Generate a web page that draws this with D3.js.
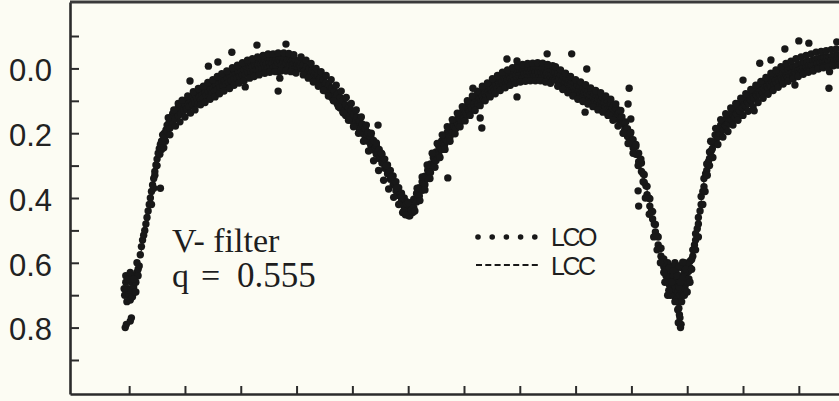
<!DOCTYPE html>
<html>
<head>
<meta charset="utf-8">
<script src="https://cdn.jsdelivr.net/npm/d3@7"></script>
<style>
  html, body { margin: 0; padding: 0; background: #fcfcf3; }
  svg { display: block; }
</style>
</head>
<body>
<div id="light-curve"></div>
<script>
// V-band light curve, phase vs. delta magnitude

// LCO: observed points [phase, dmag]
// primary eclipse at phase 0 and the rise out of it
const lcoEclipseA = [
  [-0.007,0.800],[0.004,0.770],[-0.005,0.790],[0.002,0.780],
  [-0.008,0.700],[-0.006,0.660],[-0.004,0.720],[-0.002,0.680],[0.000,0.700],[0.000,0.640],
  [0.002,0.715],[0.004,0.660],[0.004,0.690],[0.006,0.705],[0.006,0.640],[0.008,0.675],
  [0.010,0.690],[0.010,0.650],[0.012,0.660],[0.014,0.630],[0.016,0.640],[0.018,0.610],
  [0.020,0.575],[0.022,0.550],[0.024,0.530],[0.026,0.515],[0.028,0.500],[0.030,0.480],
  [0.032,0.460],[0.034,0.440],[0.036,0.420],[0.038,0.400],[0.040,0.380],[0.042,0.360],
  [0.044,0.340],[0.046,0.318],[0.048,0.298],[0.050,0.280],[0.052,0.262],[0.054,0.248],
  [0.056,0.235],[0.058,0.225],
  [-0.006,0.640],[-0.002,0.650],[0.002,0.630],[0.008,0.650],[0.012,0.690],[-0.009,0.680],
  [0.014,0.600],[0.016,0.620],[0.046,0.330],[0.050,0.300],[0.055,0.265],[0.058,0.250],
  [0.062,0.245],[0.065,0.225],[0.044,0.370],[0.040,0.420]
];

// first maximum
const lcoMaxI = [
  [0.060,0.225],[0.060,0.205],[0.063,0.200],[0.063,0.215],[0.066,0.190],[0.068,0.175],[0.068,0.195],
  [0.071,0.170],[0.073,0.160],[0.073,0.185],[0.076,0.150],[0.078,0.165],[0.078,0.140],[0.081,0.145],
  [0.083,0.130],[0.083,0.155],[0.086,0.135],[0.088,0.120],[0.088,0.145],[0.091,0.128],[0.093,0.140],
  [0.093,0.110],[0.096,0.118],[0.098,0.130],[0.098,0.105],[0.101,0.112],[0.103,0.125],[0.103,0.098],
  [0.106,0.108],[0.108,0.090],[0.108,0.118],[0.111,0.100],[0.113,0.112],[0.113,0.085],[0.116,0.095],
  [0.118,0.105],[0.118,0.080],[0.121,0.090],[0.123,0.075],[0.123,0.110],[0.126,0.088],[0.128,0.070],
  [0.128,0.098],[0.131,0.080],[0.133,0.092],[0.133,0.062],[0.136,0.075],[0.138,0.085],[0.138,0.060],
  [0.141,0.070],[0.143,0.090],[0.143,0.055],[0.146,0.065],[0.148,0.078],[0.148,0.048],[0.151,0.060],
  [0.153,0.070],[0.153,0.040],[0.156,0.052],[0.158,0.065],[0.158,0.035],[0.161,0.048],[0.163,0.058],
  [0.163,0.030],[0.166,0.042],[0.168,0.055],[0.168,0.025],[0.171,0.038],[0.173,0.050],[0.173,0.020],
  [0.176,0.030],[0.178,0.042],[0.178,0.015],[0.181,0.028],[0.183,0.038],[0.183,0.008],[0.186,0.022],
  [0.188,0.032],[0.188,0.005],[0.191,0.018],[0.193,0.030],[0.193,0.000],[0.196,0.012],[0.198,0.025],
  [0.198,-0.005],[0.201,0.010],[0.203,0.020],[0.203,-0.008],[0.206,0.005],[0.208,0.018],[0.208,-0.010],
  [0.211,0.002],[0.213,0.012],[0.213,-0.015],[0.216,-0.002],[0.218,0.010],[0.218,-0.018],[0.221,-0.005],
  [0.223,0.008],[0.223,-0.020],[0.226,-0.008],[0.228,0.005],[0.228,-0.022],[0.231,-0.010],[0.233,0.002],
  [0.233,-0.025],[0.236,-0.012],[0.238,0.000],[0.238,-0.025],[0.241,-0.015],[0.243,-0.002],[0.243,-0.028],
  [0.246,-0.014],[0.248,-0.030],[0.248,0.000],[0.251,-0.018],[0.253,-0.005],[0.253,-0.030],[0.256,-0.016],
  [0.258,-0.028],[0.258,-0.002],[0.261,-0.020],[0.263,-0.008],[0.263,-0.032],[0.266,-0.018],[0.268,-0.030],
  [0.268,0.010],[0.270,0.030],[0.271,-0.022],[0.273,-0.010],[0.273,-0.032],[0.276,-0.020],[0.278,-0.030],
  [0.278,-0.005],[0.281,-0.018],[0.283,-0.028],[0.283,0.005],[0.286,-0.020],[0.288,-0.012],[0.288,-0.030],
  [0.291,-0.022],[0.293,-0.008],[0.293,-0.028],[0.296,-0.016],[0.298,-0.025],[0.298,0.000],[0.301,-0.012],
  [0.303,-0.022],[0.303,0.002],[0.306,-0.010],
  // outer edges of the band
  [0.070,0.152],[0.073,0.205],[0.080,0.128],[0.083,0.178],[0.088,0.108],[0.091,0.165],[0.095,0.098],
  [0.100,0.150],[0.105,0.085],[0.110,0.138],[0.115,0.072],[0.118,0.128],[0.124,0.062],[0.128,0.112],
  [0.133,0.055],[0.136,0.105],[0.141,0.043],[0.145,0.095],[0.150,0.035],[0.154,0.088],[0.158,0.025],
  [0.162,0.078],[0.166,0.016],[0.170,0.070],[0.175,0.008],[0.180,0.062],[0.185,-0.002],[0.188,0.052],
  [0.194,-0.010],[0.197,0.045],[0.203,-0.018],[0.206,0.038],[0.212,-0.025],[0.216,0.030],[0.221,-0.030],
  [0.224,0.025],[0.230,-0.035],[0.233,0.020],[0.240,-0.040],[0.243,0.015],[0.249,-0.045],[0.252,0.012],
  [0.258,-0.045],[0.262,0.010],[0.267,-0.048],[0.272,0.008],[0.277,-0.048],[0.281,0.008],[0.286,-0.046],
  [0.290,0.010],[0.295,-0.042],[0.299,0.014]
];

// secondary eclipse
const lcoEclipseII = [
  [0.308,0.000],[0.308,-0.020],[0.311,-0.008],[0.313,0.010],[0.313,-0.012],[0.316,0.005],[0.318,0.018],
  [0.318,-0.005],[0.321,0.010],[0.323,0.025],[0.323,0.000],[0.326,0.015],[0.328,0.030],[0.328,0.005],
  [0.331,0.022],[0.333,0.038],[0.333,0.012],[0.336,0.028],[0.338,0.045],[0.338,0.020],[0.341,0.035],
  [0.343,0.052],[0.343,0.028],[0.346,0.045],[0.348,0.062],[0.348,0.035],[0.351,0.052],[0.353,0.070],
  [0.353,0.045],[0.356,0.062],[0.358,0.080],[0.358,0.052],[0.361,0.072],[0.363,0.090],[0.363,0.060],
  [0.366,0.082],[0.368,0.100],[0.368,0.070],[0.371,0.092],[0.373,0.110],[0.373,0.080],[0.376,0.102],
  [0.378,0.122],[0.378,0.090],[0.381,0.112],[0.383,0.135],[0.383,0.100],[0.386,0.125],[0.388,0.145],
  [0.388,0.112],[0.391,0.135],[0.393,0.152],[0.393,0.122],[0.396,0.142],[0.398,0.160],[0.398,0.130],
  [0.401,0.150],[0.403,0.170],[0.403,0.140],[0.406,0.160],[0.408,0.178],[0.408,0.150],[0.411,0.172],
  [0.413,0.190],[0.413,0.160],[0.416,0.182],[0.418,0.200],[0.418,0.172],[0.421,0.195],[0.423,0.212],
  [0.423,0.185],[0.426,0.205],[0.428,0.225],[0.428,0.198],[0.431,0.218],[0.433,0.238],[0.433,0.210],
  [0.436,0.230],[0.438,0.252],[0.438,0.222],[0.441,0.245],[0.443,0.265],[0.443,0.238],[0.446,0.258],
  [0.448,0.278],[0.448,0.250],[0.451,0.272],[0.453,0.292],[0.453,0.265],[0.456,0.288],[0.458,0.308],
  [0.458,0.280],[0.461,0.302],[0.463,0.325],[0.463,0.298],[0.466,0.320],[0.468,0.342],[0.468,0.315],
  [0.471,0.338],[0.473,0.360],[0.473,0.332],[0.476,0.355],[0.478,0.378],[0.478,0.350],[0.481,0.372],
  [0.483,0.392],[0.483,0.368],[0.486,0.390],[0.488,0.408],[0.488,0.385],[0.491,0.405],[0.493,0.425],
  [0.493,0.400],[0.496,0.420],[0.498,0.440],[0.498,0.412],[0.501,0.432],[0.503,0.455],[0.503,0.420],
  [0.506,0.430],[0.508,0.445],[0.508,0.412],
  // outer edges of the band
  [0.308,-0.035],[0.312,0.020],[0.317,-0.025],[0.321,0.030],[0.326,-0.015],[0.330,0.042],[0.335,0.000],
  [0.339,0.055],[0.344,0.010],[0.348,0.068],[0.353,0.022],[0.357,0.085],[0.362,0.035],[0.366,0.100],
  [0.371,0.052],[0.375,0.118],[0.380,0.070],[0.384,0.138],[0.389,0.090],[0.393,0.160],[0.398,0.108],
  [0.402,0.180],[0.407,0.128],[0.411,0.200],[0.416,0.150],[0.420,0.225],[0.425,0.175],[0.429,0.255],
  [0.434,0.200],[0.438,0.285],[0.443,0.230],[0.447,0.315],[0.452,0.262],[0.456,0.345],[0.461,0.300],
  [0.465,0.372],[0.470,0.335],[0.474,0.398],[0.479,0.368],[0.483,0.420],[0.488,0.395],[0.492,0.440],
  [0.497,0.418],[0.501,0.455],[0.505,0.440],[0.500,0.415],[0.490,0.445],[0.495,0.452]
];

// second maximum
const lcoMaxII = [
  [0.510,0.430],[0.510,0.404],[0.513,0.410],[0.515,0.412],[0.515,0.386],[0.518,0.392],[0.520,0.394],
  [0.520,0.368],[0.523,0.372],[0.525,0.376],[0.525,0.350],[0.528,0.354],[0.530,0.359],[0.530,0.333],
  [0.533,0.336],[0.535,0.340],[0.535,0.314],[0.538,0.318],[0.540,0.321],[0.540,0.295],[0.543,0.298],
  [0.545,0.302],[0.545,0.276],[0.548,0.280],[0.550,0.284],[0.550,0.258],[0.553,0.262],[0.555,0.267],
  [0.555,0.241],[0.558,0.246],[0.560,0.250],[0.560,0.224],[0.563,0.232],[0.565,0.237],[0.565,0.211],
  [0.568,0.218],[0.570,0.224],[0.570,0.198],[0.573,0.206],[0.575,0.211],[0.575,0.185],[0.578,0.192],
  [0.580,0.198],[0.580,0.172],[0.583,0.180],[0.585,0.186],[0.585,0.160],[0.588,0.168],[0.590,0.174],
  [0.590,0.148],[0.593,0.156],[0.595,0.163],[0.595,0.137],[0.598,0.145],[0.600,0.152],[0.600,0.126],
  [0.603,0.135],[0.605,0.143],[0.605,0.117],[0.608,0.126],[0.610,0.134],[0.610,0.108],[0.613,0.118],
  [0.615,0.126],[0.615,0.100],[0.618,0.110],[0.620,0.118],[0.620,0.092],[0.623,0.102],[0.625,0.110],
  [0.625,0.084],[0.628,0.094],[0.630,0.102],[0.630,0.076],[0.633,0.086],[0.635,0.094],[0.635,0.068],
  [0.638,0.079],[0.640,0.087],[0.640,0.061],[0.643,0.072],[0.645,0.080],[0.645,0.054],[0.648,0.065],
  [0.650,0.074],[0.650,0.048],[0.653,0.058],[0.655,0.068],[0.655,0.042],[0.658,0.052],[0.660,0.062],
  [0.660,0.036],[0.663,0.047],[0.665,0.057],[0.665,0.031],[0.668,0.042],[0.670,0.052],[0.670,0.026],
  [0.673,0.038],[0.675,0.048],[0.675,0.022],[0.678,0.034],[0.680,0.044],[0.680,0.018],[0.683,0.030],
  [0.685,0.040],[0.685,0.014],[0.688,0.026],[0.690,0.036],[0.690,0.010],[0.693,0.022],[0.695,0.033],
  [0.695,0.007],[0.698,0.020],[0.700,0.031],[0.700,0.005],[0.703,0.018],[0.705,0.029],[0.705,0.003],
  [0.708,0.016],[0.710,0.027],[0.710,0.001],[0.713,0.014],[0.715,0.026],[0.715,0.000],[0.718,0.013],
  [0.720,0.025],[0.720,-0.001],[0.723,0.012],[0.725,0.024],[0.725,-0.002],[0.728,0.011],[0.730,0.024],
  [0.730,-0.002],[0.733,0.011],[0.735,0.024],[0.735,-0.002],[0.738,0.012],[0.740,0.025],[0.740,-0.001],
  [0.743,0.013],[0.745,0.027],[0.745,0.001],[0.748,0.015],[0.750,0.029],[0.750,0.003],[0.753,0.018],
  [0.755,0.032],[0.755,0.006],[0.758,0.020],[0.760,0.034],[0.760,0.008],
  // outer edges of the band
  [0.512,0.440],[0.516,0.370],[0.521,0.408],[0.525,0.335],[0.530,0.375],[0.534,0.298],[0.539,0.340],
  [0.543,0.262],[0.548,0.305],[0.552,0.232],[0.557,0.275],[0.561,0.205],[0.566,0.250],[0.570,0.180],
  [0.575,0.225],[0.579,0.158],[0.584,0.202],[0.588,0.138],[0.593,0.180],[0.597,0.118],[0.602,0.162],
  [0.606,0.100],[0.611,0.145],[0.615,0.085],[0.620,0.130],[0.624,0.070],[0.629,0.115],[0.633,0.055],
  [0.638,0.100],[0.642,0.045],[0.647,0.088],[0.651,0.032],[0.656,0.078],[0.660,0.022],[0.665,0.068],
  [0.669,0.012],[0.674,0.060],[0.678,0.005],[0.683,0.052],[0.687,-0.002],[0.692,0.046],[0.696,-0.008],
  [0.701,0.042],[0.705,-0.012],[0.710,0.040],[0.714,-0.015],[0.719,0.038],[0.723,-0.016],[0.728,0.038],
  [0.732,-0.018],[0.737,0.038],[0.741,-0.016],[0.746,0.042],[0.750,-0.012],[0.755,0.046],[0.759,-0.008]
];

// descent into the next primary eclipse
const lcoEclipseB = [
  [0.763,0.036],[0.763,0.012],[0.766,0.026],[0.768,0.040],[0.768,0.016],[0.771,0.030],[0.773,0.045],
  [0.773,0.020],[0.776,0.035],[0.778,0.052],[0.778,0.026],[0.781,0.040],[0.783,0.058],[0.783,0.030],
  [0.786,0.046],[0.788,0.062],[0.788,0.036],[0.791,0.050],[0.793,0.068],[0.793,0.040],[0.796,0.055],
  [0.798,0.074],[0.798,0.046],[0.801,0.060],[0.803,0.078],[0.803,0.050],[0.806,0.064],[0.808,0.082],
  [0.808,0.055],[0.811,0.070],[0.813,0.088],[0.813,0.060],[0.816,0.074],[0.818,0.092],[0.818,0.064],
  [0.821,0.078],[0.823,0.098],[0.823,0.068],[0.826,0.082],[0.828,0.102],[0.828,0.072],[0.831,0.088],
  [0.833,0.106],[0.833,0.078],[0.836,0.092],[0.838,0.110],[0.838,0.082],[0.841,0.096],[0.843,0.114],
  [0.843,0.086],[0.846,0.100],[0.848,0.118],[0.848,0.090],[0.851,0.104],[0.853,0.122],[0.853,0.095],
  [0.856,0.108],[0.858,0.126],[0.858,0.100],[0.861,0.115],[0.863,0.135],[0.863,0.108],[0.866,0.122],
  [0.868,0.142],[0.868,0.115],[0.871,0.130],[0.873,0.150],[0.873,0.124],[0.876,0.140],[0.878,0.160],
  [0.878,0.136],[0.881,0.152],[0.883,0.172],[0.883,0.150],[0.886,0.168],[0.888,0.190],[0.888,0.168],
  [0.891,0.188],[0.893,0.210],[0.893,0.186],[0.896,0.205],[0.898,0.226],[0.898,0.202],[0.901,0.224],
  [0.903,0.245],[0.903,0.220],[0.906,0.242],[0.908,0.265],[0.908,0.240],[0.911,0.265],[0.913,0.288],
  [0.913,0.262],[0.916,0.292],[0.918,0.318],[0.918,0.292],[0.921,0.325],[0.923,0.352],[0.923,0.328],
  [0.926,0.362],[0.928,0.390],[0.928,0.364],[0.931,0.400],[0.933,0.425],[0.933,0.402],[0.936,0.440],
  [0.938,0.465],[0.938,0.442],[0.941,0.480],[0.943,0.505],[0.943,0.482],[0.946,0.518],[0.948,0.545],
  [0.948,0.520],[0.951,0.556],[0.953,0.580],[0.953,0.555],[0.956,0.590],[0.958,0.612],[0.958,0.588],
  [0.961,0.622],[0.963,0.640],[0.963,0.612],[0.966,0.648],[0.968,0.668],[0.968,0.640],[0.971,0.672],
  [0.973,0.690],[0.973,0.660],[0.976,0.688],[0.978,0.705],[0.978,0.675],[0.981,0.700],[0.983,0.720],
  [0.983,0.690],[0.985,0.740],[0.985,0.705],[0.987,0.770],[0.987,0.700],[0.989,0.790],[0.990,0.720],
  [0.990,0.690],[0.992,0.700],[0.992,0.670],[0.994,0.690],[0.996,0.680],[0.996,0.655],[0.998,0.665],
  [1.000,0.660],[1.000,0.630],[1.003,0.625],[1.005,0.615],[1.005,0.595],[1.008,0.590],[1.010,0.580],
  [1.010,0.560],[1.013,0.545],[1.015,0.530],[1.015,0.510],[1.018,0.495],[1.020,0.480],[1.020,0.460],
  [1.023,0.440],[1.025,0.420],[1.025,0.395],[1.028,0.380],[1.030,0.365],[1.030,0.340],[1.033,0.325],
  [1.035,0.315],[1.035,0.295],[1.038,0.288],[1.040,0.278],[1.040,0.258],[1.043,0.255],[1.045,0.248],
  [1.045,0.228],[1.048,0.232],[1.050,0.228],[1.050,0.205],[1.053,0.215],[1.055,0.212],[1.055,0.190],
  [1.058,0.200],[1.060,0.198],[1.060,0.175],[1.063,0.186],[1.065,0.190],[1.065,0.165],[1.068,0.176],
  // bottom of the eclipse
  [0.965,0.600],[0.970,0.620],[0.975,0.640],[0.975,0.610],[0.980,0.655],[0.980,0.625],[0.985,0.640],
  [0.985,0.675],[0.990,0.650],[0.990,0.615],[0.995,0.630],[0.995,0.600],[1.000,0.605],[0.970,0.700],
  [0.978,0.720],[0.983,0.745],[0.986,0.760],[0.984,0.785],[0.988,0.800],[0.967,0.685],[0.972,0.660],
  [0.962,0.640],[0.958,0.630],[0.968,0.615],[0.975,0.625],[0.982,0.640],[0.988,0.660],[0.993,0.645],
  [0.998,0.620],[1.003,0.650],[0.978,0.600],[0.985,0.610],[0.992,0.598],[0.960,0.660],[0.965,0.700],
  [0.995,0.700],[1.000,0.690],[1.005,0.660],[0.958,0.600],
  // outer edges of the band
  [0.764,-0.005],[0.768,0.055],[0.773,0.005],[0.777,0.065],[0.782,0.015],[0.786,0.075],[0.791,0.025],
  [0.795,0.085],[0.800,0.035],[0.804,0.095],[0.809,0.042],[0.813,0.102],[0.818,0.050],[0.822,0.110],
  [0.827,0.060],[0.831,0.118],[0.836,0.068],[0.840,0.128],[0.845,0.075],[0.849,0.135],[0.854,0.085],
  [0.858,0.145],[0.863,0.095],[0.867,0.160],[0.872,0.110],[0.876,0.178],[0.881,0.130],[0.885,0.200],
  [0.890,0.165],[0.894,0.232],[0.899,0.198],[0.903,0.262],[0.908,0.235],[0.912,0.300],[0.917,0.280],
  [0.921,0.350],[0.925,0.400],[0.932,0.450],[0.940,0.520],[0.946,0.560],[0.952,0.600],
  [1.008,0.620],[1.015,0.560],[1.020,0.520],[1.028,0.420],[1.032,0.380],[1.036,0.330],[1.040,0.300]
];

// rise towards the next first maximum
const lcoMaxIb = [
  [1.070,0.180],[1.070,0.155],[1.073,0.168],[1.075,0.170],[1.075,0.145],[1.078,0.158],[1.080,0.160],
  [1.080,0.135],[1.083,0.148],[1.085,0.150],[1.085,0.126],[1.088,0.140],[1.090,0.142],[1.090,0.116],
  [1.093,0.130],[1.095,0.132],[1.095,0.106],[1.098,0.120],[1.100,0.122],[1.100,0.098],[1.103,0.112],
  [1.105,0.115],[1.105,0.090],[1.108,0.104],[1.110,0.108],[1.110,0.082],[1.113,0.096],[1.115,0.100],
  [1.115,0.075],[1.118,0.088],[1.120,0.092],[1.120,0.068],[1.123,0.080],[1.125,0.086],[1.125,0.060],
  [1.128,0.074],[1.130,0.080],[1.130,0.054],[1.133,0.068],[1.135,0.074],[1.135,0.048],[1.138,0.062],
  [1.140,0.068],[1.140,0.042],[1.143,0.056],[1.145,0.062],[1.145,0.036],[1.148,0.050],[1.150,0.056],
  [1.150,0.030],[1.153,0.044],[1.155,0.050],[1.155,0.024],[1.158,0.038],[1.160,0.045],[1.160,0.019],
  [1.163,0.034],[1.165,0.040],[1.165,0.014],[1.168,0.030],[1.170,0.036],[1.170,0.010],[1.173,0.026],
  [1.175,0.032],[1.175,0.005],[1.178,0.022],[1.180,0.028],[1.180,0.002],[1.183,0.018],[1.185,0.025],
  [1.185,-0.002],[1.188,0.014],[1.190,0.022],[1.190,-0.005],[1.193,0.010],[1.195,0.018],[1.195,-0.008],
  [1.198,0.006],[1.200,0.015],[1.200,-0.012],[1.203,0.002],[1.205,0.012],[1.205,-0.015],[1.208,-0.002],
  [1.210,0.010],[1.210,-0.018],[1.213,-0.004],[1.215,0.006],[1.215,-0.020],[1.218,-0.008],[1.220,0.004],
  [1.220,-0.022],[1.223,-0.010],[1.225,0.002],[1.225,-0.025],[1.228,-0.012],[1.230,0.000],[1.230,-0.028],
  [1.233,-0.015],[1.235,-0.002],[1.235,-0.030],[1.238,-0.018],[1.240,-0.005],[1.240,-0.032],[1.243,-0.020],
  [1.245,-0.008],[1.245,-0.035],[1.248,-0.022],[1.250,-0.010],[1.250,-0.036],[1.253,-0.024],[1.255,0.010],
  [1.255,-0.035],[1.258,-0.025],[1.260,-0.012],[1.260,-0.038],[1.263,-0.026],[1.265,-0.015],[1.265,-0.040],
  [1.268,-0.028],[1.270,-0.018],[1.270,-0.040],[1.273,-0.030],[1.276,-0.020],[1.276,-0.042],
  // outer edges of the band
  [1.042,0.225],[1.046,0.275],[1.051,0.185],[1.055,0.235],[1.060,0.158],[1.064,0.212],[1.069,0.140],
  [1.073,0.195],[1.078,0.122],[1.082,0.175],[1.087,0.108],[1.091,0.160],[1.096,0.092],[1.100,0.145],
  [1.105,0.078],[1.109,0.132],[1.114,0.065],[1.118,0.118],[1.123,0.052],[1.127,0.105],[1.132,0.040],
  [1.136,0.092],[1.141,0.028],[1.145,0.080],[1.150,0.015],[1.154,0.068],[1.159,0.005],[1.163,0.058],
  [1.168,-0.005],[1.172,0.048],[1.177,-0.015],[1.181,0.040],[1.186,-0.022],[1.190,0.032],[1.195,-0.030],
  [1.199,0.025],[1.204,-0.035],[1.208,0.018],[1.213,-0.040],[1.217,0.012],[1.222,-0.045],[1.226,0.008],
  [1.231,-0.050],[1.235,0.002],[1.240,-0.052],[1.244,-0.002],[1.249,-0.055],[1.253,-0.005],[1.258,-0.058],
  [1.262,-0.008],[1.267,-0.060],[1.271,-0.010]
];

// scattered single measurements
const lcoStray = [
  [0.109,0.039],[0.142,-0.007],[0.159,-0.020],[0.184,-0.050],[0.229,-0.072],[0.281,-0.075],
  [0.208,0.057],[0.267,0.070],[0.056,0.370],[0.446,0.175],[0.571,0.338],[0.632,0.184],
  [0.629,0.153],[0.677,-0.029],[0.695,-0.023],[0.695,0.088],[0.749,-0.045],[0.793,-0.045],
  [0.820,0.002],[0.817,0.135],[0.616,0.061],[0.896,0.061],[0.894,0.110],[0.899,0.156],
  [0.912,0.378],[0.913,0.425],[1.100,0.036],[1.130,-0.016],[1.150,-0.026],[1.175,-0.060],
  [1.200,-0.085],[1.218,-0.078],[1.268,-0.082],[1.193,0.051],[1.254,0.061],[1.120,0.131]
];

// LCC: computed light curve
const lccPhase = [-0.010,0.000,0.010,0.020,0.030,0.040,0.050,0.060,0.070,0.080,0.090,0.100,0.120,0.140,
  0.160,0.180,0.200,0.220,0.240,0.260,0.280,0.300,0.320,0.340,0.360,0.380,0.400,0.420,0.440,0.460,0.480,
  0.490,0.500,0.510,0.520,0.540,0.560,0.580,0.600,0.620,0.640,0.660,0.680,0.700,0.720,0.740,0.760,0.780,
  0.800,0.820,0.840,0.860,0.880,0.900,0.920,0.940,0.960,0.975,0.985,0.995,1.010,1.020,1.030,1.040,1.060,
  1.080,1.100,1.120,1.140,1.160,1.180,1.200,1.220,1.240,1.260,1.275];
const lccMag = [0.700,0.690,0.650,0.575,0.500,0.400,0.290,0.225,0.185,0.155,0.135,0.120,0.095,0.073,
  0.051,0.033,0.017,0.002,-0.010,-0.017,-0.020,-0.014,0.002,0.027,0.054,0.095,0.135,0.185,0.242,0.313,0.390,
  0.418,0.430,0.416,0.380,0.307,0.236,0.184,0.138,0.104,0.073,0.048,0.030,0.017,0.011,0.011,0.022,0.040,
  0.060,0.077,0.095,0.113,0.150,0.222,0.318,0.470,0.615,0.690,0.715,0.690,0.570,0.470,0.350,0.265,0.184,
  0.140,0.112,0.086,0.062,0.032,0.016,0.008,-0.004,-0.014,-0.022,-0.026];

// axis ticks
const yTicks = [-0.1, 0.0, 0.1, 0.2, 0.3, 0.4, 0.5, 0.6, 0.7, 0.8, 0.9];
const yLabelled = [0.0, 0.2, 0.4, 0.6, 0.8];
const xTicks = [0.0, 0.1, 0.2, 0.3, 0.4, 0.5, 0.6, 0.7, 0.8, 0.9, 1.0, 1.1, 1.2];

const lcoPoints = [].concat(lcoEclipseA, lcoMaxI, lcoEclipseII, lcoMaxII, lcoEclipseB, lcoMaxIb, lcoStray);
const lccPoints = lccPhase.map((p, i) => [p, lccMag[i]]);

const width = 839, height = 401;
const frame = { left: 70, top: 2, bottom: 394 };

const svg = d3.select("#light-curve").append("svg")
  .attr("width", width)
  .attr("height", height);

const x = d3.scaleLinear().domain([-0.106, 1.272]).range([frame.left, width]);
const y = d3.scaleLinear().domain([-0.205, 1.005]).range([frame.top, frame.bottom]);

// computed curve, mostly hidden under the points
svg.append("path")
  .datum(lccPoints)
  .attr("fill", "none")
  .attr("stroke", "#222")
  .attr("stroke-width", 1.2)
  .attr("stroke-dasharray", "5,2")
  .attr("d", d3.line().x(d => x(d[0])).y(d => y(d[1])).curve(d3.curveMonotoneX));

// observed points
svg.append("g")
  .selectAll("circle")
  .data(lcoPoints)
  .join("circle")
  .attr("cx", d => x(d[0]))
  .attr("cy", d => y(d[1]))
  .attr("r", 3.7)
  .attr("fill", "#181818");

// y axis, ticks pointing inward
const yAxis = svg.append("g")
  .attr("transform", `translate(${frame.left},0)`)
  .call(d3.axisLeft(y)
    .tickValues(yTicks)
    .tickSizeInner(-9)
    .tickSizeOuter(0)
    .tickPadding(18)
    .tickFormat(d => yLabelled.some(v => Math.abs(v - d) < 1e-9) ? d3.format(".1f")(d) : ""));

yAxis.select(".domain").attr("stroke", "#2b2b2b").attr("stroke-width", 2.6);
yAxis.selectAll(".tick line").attr("stroke", "#2b2b2b").attr("stroke-width", 2);
yAxis.selectAll(".tick text")
  .attr("fill", "#222")
  .attr("dy", "0.4em")
  .style("font-family", "'Liberation Sans', Arial, sans-serif")
  .style("font-size", "31px");

// x axis, unlabelled
const xAxis = svg.append("g")
  .attr("transform", `translate(0,${frame.bottom})`)
  .call(d3.axisBottom(x)
    .tickValues(xTicks)
    .tickSizeInner(-8)
    .tickSizeOuter(0)
    .tickFormat(""));

xAxis.select(".domain").attr("stroke", "#2b2b2b").attr("stroke-width", 2.6);
xAxis.selectAll(".tick line").attr("stroke", "#2b2b2b").attr("stroke-width", 2);

// top edge of the frame
svg.append("line")
  .attr("x1", frame.left).attr("x2", width + 10)
  .attr("y1", frame.top).attr("y2", frame.top)
  .attr("stroke", "#3a3a3a")
  .attr("stroke-width", 3);

// annotation: filter and mass ratio, one text block
const note = svg.append("text")
  .attr("x", 172)
  .attr("y", 252)
  .attr("fill", "#1e1e1e")
  .style("font-family", "'Liberation Serif', 'Times New Roman', serif")
  .style("font-size", "34px");
note.append("tspan").attr("x", 172).attr("y", 252).text("V- filter");
note.append("tspan").attr("x", 172).attr("y", 287).text("q");
note.append("tspan").attr("x", 201).attr("y", 287).text("=");
note.append("tspan").attr("x", 237).attr("y", 287).style("font-size", "35px").text("0.555");

// legend
const legend = svg.append("g");
legend.selectAll("circle")
  .data([0, 1, 2, 3, 4])
  .join("circle")
  .attr("cx", i => 478 + i * 14.2)
  .attr("cy", 237)
  .attr("r", 2.8)
  .attr("fill", "#181818");
legend.append("line")
  .attr("x1", 476).attr("x2", 541)
  .attr("y1", 265).attr("y2", 265)
  .attr("stroke", "#181818")
  .attr("stroke-width", 2)
  .attr("stroke-dasharray", "6,3.3");
legend.selectAll("text")
  .data(["LCO", "LCC"])
  .join("text")
  .attr("x", 551)
  .attr("y", (d, i) => 246 + i * 29)
  .attr("fill", "#1e1e1e")
  .style("font-family", "'Liberation Sans', Arial, sans-serif")
  .style("font-size", "25px")
  .style("letter-spacing", "-2.5px")
  .text(d => d);
</script>
</body>
</html>
